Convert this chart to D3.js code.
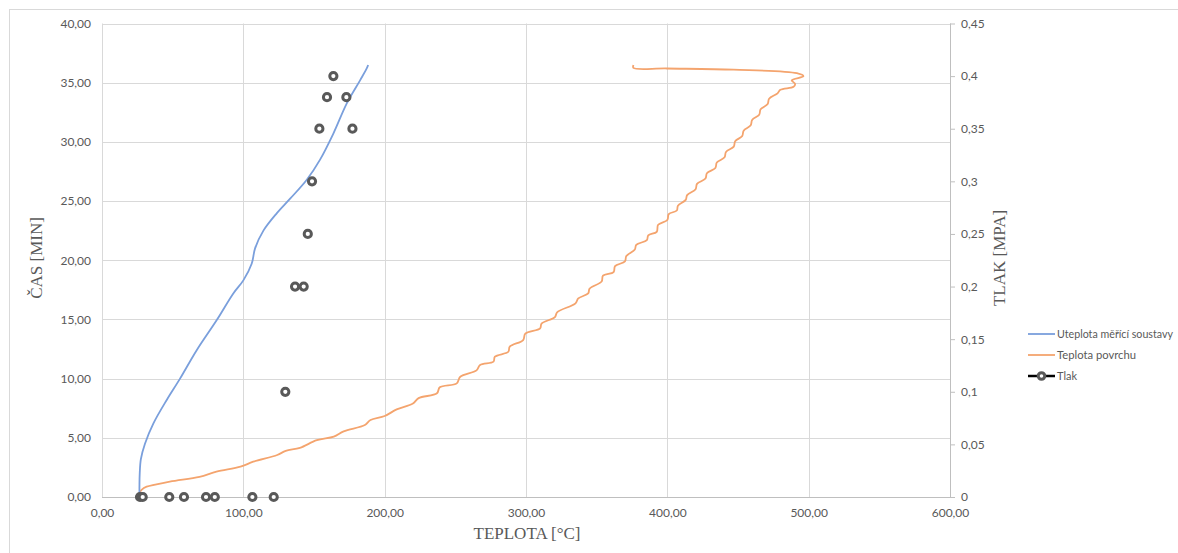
<!DOCTYPE html>
<html><head><meta charset="utf-8">
<script src="https://cdn.jsdelivr.net/npm/d3@7"></script>
<style>body{margin:0;background:#fff}svg{display:block}</style>
</head><body>
<svg id="c" width="1178" height="553"></svg>
<script>
// Temperature [°C] / time [min]
const uteplota = [[26.5,0],[26.5,1],[26.7,2],[27.5,3.2],[30.4,4.5],[36.3,6.2],[45.8,8.2],[55.2,10],[67,12.4],[81.2,14.95],[92.9,17.2],[100,18.3],[105.9,19.7],[108.3,21],[114.2,22.5],[123.6,23.96],[133.1,25.2],[144.9,26.8],[154.3,28.5],[163.7,30.7],[173.2,33.25],[182.6,35.2],[187.3,36.2],[188.3,36.5]];
const povrch = [[26.9,0.4],[28,0.6],[31.6,0.87],[48,1.29],[69,1.7],[81,2.14],[98,2.56],[107,2.98],[124,3.55],[130,3.9],[140,4.15],[152,4.8],[164,5.1],[171,5.55],[186,6.08],[190,6.5],[200,6.84],[208.5,7.4],[220,7.9],[224,8.35],[237,8.76],[239,9.27],[251,9.6],[253.5,10.16],[265,10.7],[267.5,11.15],[277,11.43],[278,11.85],[287.5,12.27],[288.5,12.7],[298,13.26],[299.5,13.8],[310,14.25],[311,14.65],[320.5,15.2],[322,15.6],[335,16.36],[337,16.78],[344,17.2],[345,17.6],[353.5,18.2],[354.5,18.7],[362,19.0],[363,19.5],[370,19.9],[371,20.35],[377,20.9],[378,21.3],[385.5,21.7],[386.5,22.1],[392.5,22.4],[393.5,23.0],[400,23.4],[401,23.9],[406.7,24.2],[407.5,24.6],[413,25.1],[414,25.5],[420,26.0],[421,26.45],[427,26.9],[428,27.35],[434,27.8],[435,28.25],[440.5,28.7],[441.5,29.15],[447,29.6],[448,30.05],[453,30.5],[454,30.95],[459,31.4],[460,31.85],[465,32.3],[466,32.75],[471,33.2],[472,33.65],[478,34.1],[480,34.4],[489.3,34.65],[490.4,34.9],[488,35.2],[496.3,35.55],[491.6,35.8],[446.8,36.1],[399.6,36.2],[376,36.25],[376,36.5]];
// Pressure: temperature [°C] / pressure [MPa]
const tlak = [[26.9,0],[28.8,0],[47.6,0],[58,0],[73.6,0],[79.8,0],[106.4,0],[121.5,0],[129.7,0.1],[136.6,0.2],[142.7,0.2],[145.6,0.25],[148.6,0.3],[153.8,0.35],[177.2,0.35],[159.2,0.38],[172.9,0.38],[163.7,0.4]];
const xTicks = [0,100,200,300,400,500,600];
const yTicks = [0,5,10,15,20,25,30,35,40];
const y2Ticks = [0,0.05,0.1,0.15,0.2,0.25,0.3,0.35,0.4,0.45];
const seriesNames = ["Uteplota měřící soustavy","Teplota povrchu","Tlak"];
const colors = ["#7a9fdc","#f4a46e","#595959"];

const loc = d3.formatLocale({decimal:",",thousands:" ",grouping:[3],currency:["",""]});
const f2 = loc.format(".2f"), f2t = loc.format(".2~f");

const svg = d3.select("#c");
svg.append("rect").attr("x",9.5).attr("y",9.5).attr("width",1200).attr("height",600).attr("fill","none").attr("stroke","#d9d9d9");

const x = d3.scaleLinear([0,600],[102,950]);
const y = d3.scaleLinear([0,40],[497,23.5]);
const y2 = d3.scaleLinear([0,0.45],[497,23.5]);

// grid
svg.append("g").selectAll("line").data(yTicks).join("line")
  .attr("x1",x(0)).attr("x2",x(600)).attr("y1",d=>Math.round(y(d))+0.5).attr("y2",d=>Math.round(y(d))+0.5)
  .attr("stroke",d=>d===0?"#bfbfbf":"#d9d9d9");
svg.append("g").selectAll("line").data(xTicks).join("line")
  .attr("y1",y(0)).attr("y2",y(40)).attr("x1",d=>Math.round(x(d))+0.5).attr("x2",d=>Math.round(x(d))+0.5)
  .attr("stroke",d=>d===600?"#bfbfbf":"#d9d9d9");

const tickFont = "Lato, 'Open Sans', sans-serif";
const xa = svg.append("g").attr("transform",`translate(0,${y(0)})`).call(d3.axisBottom(x).tickValues(xTicks).tickFormat(f2).tickSize(0).tickPadding(11));
const ya = svg.append("g").attr("transform",`translate(${x(0)-11},0)`).call(d3.axisLeft(y).tickValues(yTicks).tickFormat(f2).tickSize(0).tickPadding(0));
const y2a = svg.append("g").attr("transform",`translate(${x(600)},0)`).call(d3.axisRight(y2).tickValues(y2Ticks).tickFormat(f2t).tickSize(5).tickPadding(6));
[xa,ya,y2a].forEach(a=>{
  a.select(".domain").remove();
  a.selectAll("text").attr("fill","#595959").style("font-family",tickFont).style("font-size","12px");
  a.selectAll("line").attr("stroke","#bfbfbf");
});

// titles
const titleFont = "'Liberation Serif', 'Times New Roman', serif";
svg.append("text").attr("x",527).attr("y",539).attr("text-anchor","middle").attr("fill","#595959")
  .style("font-family",titleFont).style("font-size","17px").text("TEPLOTA [°C]");
svg.append("text").attr("transform","translate(42,258) rotate(-90)").attr("text-anchor","middle").attr("fill","#595959")
  .style("font-family",titleFont).style("font-size","17px").text("ČAS [MIN]");
svg.append("text").attr("transform","translate(1005,258) rotate(-90)").attr("text-anchor","middle").attr("fill","#595959")
  .style("font-family",titleFont).style("font-size","17px").text("TLAK [MPA]");

// lines
const lineT = d3.line().x(d=>x(d[0])).y(d=>y(d[1])).curve(d3.curveCatmullRom.alpha(0.5));
svg.append("path").datum(povrch).attr("d",lineT).attr("fill","none").attr("stroke",colors[1]).attr("stroke-width",1.8);
svg.append("path").datum(uteplota).attr("d",lineT).attr("fill","none").attr("stroke",colors[0]).attr("stroke-width",1.8);

// markers
svg.append("g").selectAll("circle").data(tlak).join("circle")
  .attr("cx",d=>x(d[0])).attr("cy",d=>y2(d[1])).attr("r",3.6)
  .attr("fill","#fff").attr("stroke",colors[2]).attr("stroke-width",3);

// legend
const lg = svg.append("g");
const rowsY = [334,355,376];
const textLens = [116,79,20];
seriesNames.forEach((n,i)=>{
  const g = lg.append("g").attr("transform",`translate(0,${rowsY[i]})`);
  g.append("line").attr("x1",1028).attr("x2",1055).attr("y1",0).attr("y2",0)
    .attr("stroke",i===2?"#000":colors[i]).attr("stroke-width",i===2?2.5:1.8);
  if(i===2) g.append("circle").attr("cx",1041.5).attr("cy",0).attr("r",3.3).attr("fill","#fff").attr("stroke",colors[2]).attr("stroke-width",3);
  g.append("text").attr("x",1057).attr("y",0).attr("dy","0.35em").attr("fill","#595959")
    .attr("textLength",textLens[i]).attr("lengthAdjust","spacingAndGlyphs")
    .style("font-family",tickFont).style("font-size","11px").text(n);
});
</script>
</body></html>
